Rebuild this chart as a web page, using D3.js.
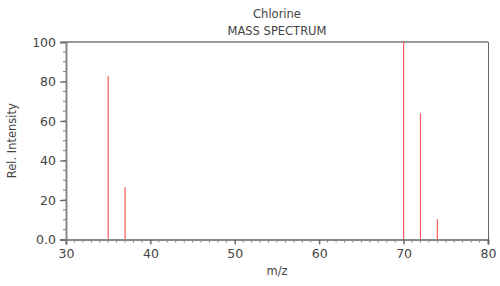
<!DOCTYPE html>
<html>
<head>
<meta charset="utf-8">
<script src="https://cdn.jsdelivr.net/npm/d3@7"></script>
<style>
    body { margin: 0; background: #fff; }
    text { font-family: "DejaVu Sans", sans-serif; fill: #444; }
</style>
</head>
<body>
<script>
    //peak data
    var mzValues = [35, 37, 70, 72, 74];
    var intensities = [82.8, 26.4, 100, 63.9, 10.2];
    var xTicks = [30, 40, 50, 60, 70, 80];
    var yTicks = [0, 20, 40, 60, 80, 100];
    var yTickLabels = ["0.0", "20", "40", "60", "80", "100"];

    var width = 500,
        height = 286;
    var margin = { left: 66, right: 12, top: 42, bottom: 46.5 };

    var svg = d3.select("body")
        .append("svg")
        .attr("width", width)
        .attr("height", height);

    var x = d3.scaleLinear()
        .domain([30, 80])
        .range([margin.left, width - margin.right]);

    var y = d3.scaleLinear()
        .domain([0, 100])
        .range([height - margin.bottom, margin.top]);

    //titles
    var cx = (x.range()[0] + x.range()[1]) / 2;
    svg.append("text")
        .attr("x", cx).attr("y", 18)
        .attr("text-anchor", "middle")
        .style("font-size", "11.5px")
        .text("Chlorine");
    svg.append("text")
        .attr("x", cx).attr("y", 35)
        .attr("text-anchor", "middle")
        .style("font-size", "11.5px")
        .text("MASS SPECTRUM");

    //frame: top and right
    svg.append("line")
        .attr("x1", x(30)).attr("x2", x(80))
        .attr("y1", y(100)).attr("y2", y(100))
        .attr("stroke", "#999").attr("stroke-width", 2);
    svg.append("line")
        .attr("x1", x(80) + 0.5).attr("x2", x(80) + 0.5)
        .attr("y1", y(100)).attr("y2", y(0))
        .attr("stroke", "#666").attr("stroke-width", 1);

    //peaks
    svg.selectAll(".peak")
        .data(mzValues)
        .enter()
        .append("line")
        .attr("class", "peak")
        .attr("x1", function (d) { return x(d); })
        .attr("x2", function (d) { return x(d); })
        .attr("y1", y(0))
        .attr("y2", function (d, i) { return y(intensities[i]); })
        .attr("stroke", "#ff5a5a")
        .attr("stroke-width", 1.2);

    //minor ticks
    var xMinor = d3.range(30, 81, 1);
    svg.selectAll(".xminor")
        .data(xMinor)
        .enter()
        .append("line")
        .attr("x1", function (d) { return x(d); })
        .attr("x2", function (d) { return x(d); })
        .attr("y1", y(0)).attr("y2", y(0) + 3)
        .attr("stroke", "#777");
    var yMinor = d3.range(0, 101, 5);
    svg.selectAll(".yminor")
        .data(yMinor)
        .enter()
        .append("line")
        .attr("x1", x(30) - 3).attr("x2", x(30))
        .attr("y1", function (d) { return y(d); })
        .attr("y2", function (d) { return y(d); })
        .attr("stroke", "#777");

    //axes
    var xAxis = svg.append("g")
        .attr("transform", "translate(0," + y(0) + ")")
        .call(d3.axisBottom(x).tickValues(xTicks).tickSize(5).tickPadding(5).tickFormat(d3.format("d")));
    var yAxis = svg.append("g")
        .attr("transform", "translate(" + x(30) + ",0)")
        .call(d3.axisLeft(y).tickValues(yTicks).tickSize(6).tickPadding(4)
            .tickFormat(function (d, i) { return yTickLabels[i]; }));

    [xAxis, yAxis].forEach(function (g) {
        g.select(".domain").attr("stroke", "#888").attr("stroke-width", 2);
        g.selectAll(".tick line").attr("stroke", "#666").attr("stroke-width", 1.3);
        g.selectAll(".tick text").style("font-size", "12.5px").style("fill", "#444")
            .style("font-family", "DejaVu Sans, sans-serif");
    });

    //axis labels
    svg.append("text")
        .attr("x", cx).attr("y", 275)
        .attr("text-anchor", "middle")
        .style("font-size", "11.5px")
        .text("m/z");
    svg.append("text")
        .attr("transform", "translate(16," + ((y(0) + y(100)) / 2) + ") rotate(-90)")
        .attr("text-anchor", "middle")
        .style("font-size", "11.5px")
        .text("Rel. Intensity");
</script>
</body>
</html>
